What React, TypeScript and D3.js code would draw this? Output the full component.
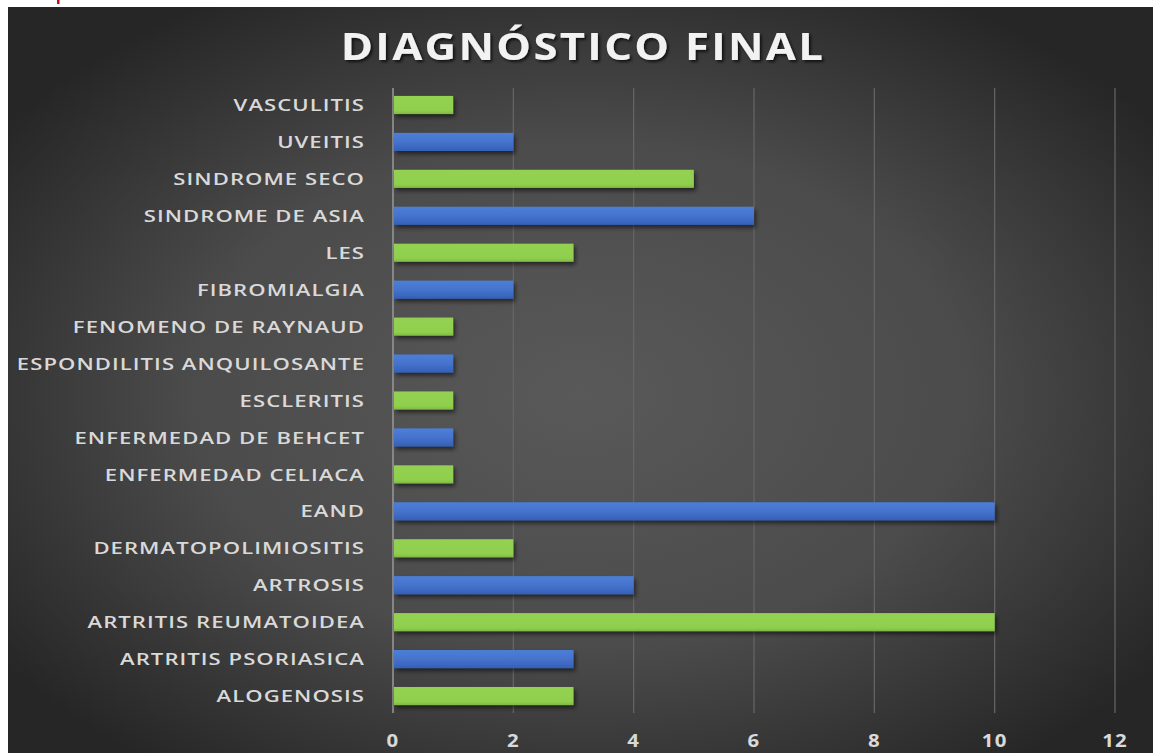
import React from "react";
import * as d3 from "d3";

const categories = [
  "ALOGENOSIS",
  "ARTRITIS PSORIASICA",
  "ARTRITIS REUMATOIDEA",
  "ARTROSIS",
  "DERMATOPOLIMIOSITIS",
  "EAND",
  "ENFERMEDAD CELIACA",
  "ENFERMEDAD DE BEHCET",
  "ESCLERITIS",
  "ESPONDILITIS ANQUILOSANTE",
  "FENOMENO DE RAYNAUD",
  "FIBROMIALGIA",
  "LES",
  "SINDROME DE ASIA",
  "SINDROME SECO",
  "UVEITIS",
  "VASCULITIS",
];
const values = [3, 3, 10, 4, 2, 10, 1, 1, 1, 1, 1, 2, 3, 6, 5, 2, 1];
const xTicks = [0, 2, 4, 6, 8, 10, 12];
const title = "DIAGNÓSTICO FINAL";

export default function App() {
  const W = 1155, H = 753;
  const x = d3.scaleLinear().domain([0, 12]).range([393, 1115]);
  const y = d3
    .scaleBand<string>()
    .domain([...categories].reverse())
    .range([86.5, 714.5])
    .paddingInner(0.51)
    .paddingOuter(0.255);
  const font = "'Open Sans', 'DejaVu Sans', sans-serif";
  return (
    <svg
      width={W}
      height={H}
      style={{ position: "absolute", left: 0, top: 0, display: "block" }}
    >
      <defs>
        <radialGradient id="bg" cx="0.5" cy="0.52" r="0.62" gradientUnits="objectBoundingBox">
          <stop offset="0" stopColor="#595959" />
          <stop offset="0.55" stopColor="#4b4b4b" />
          <stop offset="1" stopColor="#262626" />
        </radialGradient>
        <linearGradient id="blue" x1="0" y1="0" x2="0" y2="1">
          <stop offset="0" stopColor="#4d7fd8" />
          <stop offset="0.5" stopColor="#4673cc" />
          <stop offset="1" stopColor="#3460b8" />
        </linearGradient>
        <linearGradient id="green" x1="0" y1="0" x2="0" y2="1">
          <stop offset="0" stopColor="#94d152" />
          <stop offset="0.8" stopColor="#90cf4e" />
          <stop offset="1" stopColor="#7fba42" />
        </linearGradient>
        <filter id="shadow" x="-10%" y="-50%" width="120%" height="220%">
          <feGaussianBlur in="SourceAlpha" stdDeviation="2" />
          <feOffset dx="2" dy="3" result="b" />
          <feComponentTransfer>
            <feFuncA type="linear" slope="0.55" />
          </feComponentTransfer>
          <feMerge>
            <feMergeNode />
            <feMergeNode in="SourceGraphic" />
          </feMerge>
        </filter>
        <filter id="tshadow" x="-5%" y="-30%" width="110%" height="160%">
          <feGaussianBlur in="SourceAlpha" stdDeviation="1.5" />
          <feOffset dx="1.5" dy="2" />
          <feComponentTransfer>
            <feFuncA type="linear" slope="0.7" />
          </feComponentTransfer>
          <feMerge>
            <feMergeNode />
            <feMergeNode in="SourceGraphic" />
          </feMerge>
        </filter>
      </defs>
      <rect x={0} y={0} width={W} height={H} fill="#ffffff" />
      <rect x={57} y={0} width={2.5} height={4} fill="#c0101a" />
      <rect x={8} y={7} width={1145} height={H - 7} fill="url(#bg)" />
      <g transform="translate(583,60) scale(1.15,1)">
        <text
          x={0}
          y={0}
          textAnchor="middle"
          fill="#f2f2f2"
          fontFamily={font}
          fontWeight={700}
          fontSize={38}
          letterSpacing={2}
          filter="url(#tshadow)"
        >
          {title}
        </text>
      </g>
      {xTicks.map((t) => (
        <line
          key={"g" + t}
          x1={x(t)}
          x2={x(t)}
          y1={88}
          y2={713}
          stroke={t === 0 ? "#9a9a9a" : "#676767"}
          strokeWidth={t === 0 ? 1.5 : 1.2}
        />
      ))}
      {categories.map((c, i) => (
        <rect
          key={"b" + c}
          x={x(0) + 1}
          y={y(c)}
          width={x(values[i]) - x(0) - 1}
          height={y.bandwidth()}
          fill={i % 2 === 0 ? "url(#green)" : "url(#blue)"}
          filter="url(#shadow)"
        />
      ))}
      {categories.map((c) => (
        <g
          key={"l" + c}
          transform={`translate(365,${(y(c) as number) + y.bandwidth() / 2}) scale(1.3,1)`}
        >
          <text
            x={0}
            y={0}
            dy="0.36em"
            textAnchor="end"
            fill="#d9d9d9"
            fontFamily={font}
            fontWeight={600}
            fontSize={17}
            letterSpacing={0.8}
          >
            {c}
          </text>
        </g>
      ))}
      {xTicks.map((t) => (
        <g key={"t" + t} transform={`translate(${x(t)},741) scale(1.2,1)`}>
          <text
            x={0}
            y={0}
            dy="0.36em"
            textAnchor="middle"
            fill="#d9d9d9"
            fontFamily={font}
            fontWeight={700}
            fontSize={17}
            letterSpacing={1}
          >
            {t}
          </text>
        </g>
      ))}
    </svg>
  );
}
